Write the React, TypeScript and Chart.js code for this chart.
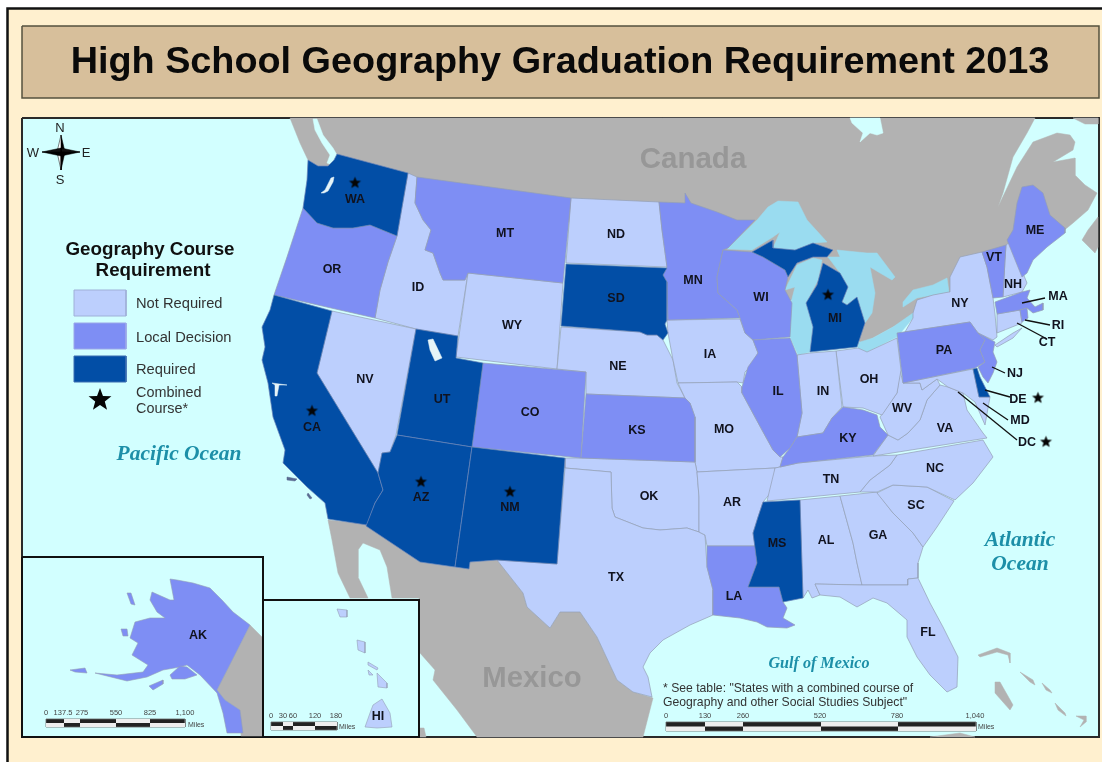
import React, { useEffect, useRef } from "react";
import { Chart, registerables } from "chart.js";

Chart.register(...registerables);

type P = number[];

const WA: P[] = [[308,160],[318,166],[328,166],[334,160],[337,154],[408,173],[397,236],[370,225],[353,228],[333,228],[317,223],[303,208],[307,180]];
const OR: P[] = [[303,208],[317,223],[333,228],[353,228],[370,225],[397,236],[388,262],[380,290],[375,318],[274,295],[287,257]];
const CA: P[] = [[274,295],[332,311],[317,373],[378,473],[383,490],[375,503],[367,525],[328,519],[325,503],[307,487],[283,463],[285,450],[273,417],[268,383],[262,360],[265,347],[262,327],[270,310]];
const NV: P[] = [[332,311],[416,329],[396,435],[390,452],[382,453],[378,473],[317,373]];
const ID: P[] = [[408,173],[417,177],[415,203],[423,220],[431,230],[425,250],[433,253],[440,273],[443,280],[465,280],[468,273],[458,336],[416,329],[375,318],[380,290],[388,262],[397,236]];
const MT: P[] = [[417,177],[571,198],[563,283],[468,273],[465,280],[443,280],[440,273],[433,253],[425,250],[431,230],[423,220],[415,203]];
const WY: P[] = [[468,273],[563,283],[557,369],[456,357]];
const UT: P[] = [[416,329],[458,336],[456,358],[483,363],[472,447],[397,435]];
const AZ: P[] = [[397,435],[472,447],[455,567],[420,562],[366,526],[375,503],[383,490],[378,473],[382,453],[390,452]];
const NM: P[] = [[472,447],[565,458],[557,564],[497,560],[470,562],[469,569],[455,567]];
const CO: P[] = [[483,363],[586,372],[581,458],[472,447]];
const ND: P[] = [[571,198],[659,202],[662,230],[667,267],[566,263]];
const SD: P[] = [[566,264],[667,268],[663,275],[667,282],[667,320],[665,324],[668,333],[663,340],[657,335],[647,335],[640,332],[561,326]];
const NE: P[] = [[561,327],[640,332],[647,335],[657,335],[663,340],[673,360],[677,383],[685,398],[586,394],[586,372],[557,369]];
const KS: P[] = [[586,394],[685,398],[690,403],[695,417],[695,462],[581,458]];
const OK: P[] = [[565,458],[565,468],[611,472],[612,508],[615,517],[643,528],[660,530],[687,528],[699,532],[699,497],[697,472],[695,462],[581,458]];
const TX: P[] = [[565,468],[611,472],[612,508],[615,517],[643,528],[660,530],[687,528],[699,532],[705,535],[707,567],[713,590],[713,615],[690,625],[663,640],[650,653],[643,667],[648,677],[652,697],[633,692],[617,680],[597,637],[580,612],[560,612],[550,628],[527,607],[523,593],[497,560],[557,564]];
const MN: P[] = [[659,202],[685,203],[685,193],[691,203],[717,212],[737,220],[755,220],[728,248],[723,250],[717,277],[718,293],[737,310],[740,318],[668,320],[667,282],[663,275],[667,267],[662,230]];
const IA: P[] = [[667,320],[740,319],[745,333],[753,340],[758,353],[750,367],[745,372],[743,383],[737,382],[678,383],[673,360],[668,333]];
const MO: P[] = [[678,383],[737,382],[742,387],[742,393],[762,430],[773,450],[780,457],[783,457],[780,467],[775,468],[697,472],[695,462],[695,417],[690,403],[685,398]];
const AR: P[] = [[697,472],[775,468],[773,490],[763,502],[758,517],[753,533],[755,546],[707,546],[705,535],[699,532],[699,497]];
const LA: P[] = [[707,546],[755,546],[757,563],[748,587],[779,587],[783,602],[787,608],[783,618],[795,625],[787,628],[767,627],[757,622],[740,618],[713,615],[713,590],[707,567]];
const WI: P[] = [[723,250],[752,252],[763,257],[785,270],[788,277],[785,290],[792,303],[790,337],[753,340],[745,333],[740,318],[737,310],[718,293],[717,277]];
const IL: P[] = [[753,340],[790,338],[797,355],[802,413],[797,437],[790,448],[780,457],[773,450],[762,430],[742,393],[742,387],[748,367],[758,353]];
const IN: P[] = [[797,355],[810,353],[836,351],[842,407],[832,418],[823,433],[810,435],[797,437],[802,413]];
const OH: P[] = [[836,351],[858,348],[867,352],[897,338],[901,370],[897,393],[882,415],[863,408],[843,407]];
const KY: P[] = [[797,437],[810,435],[823,433],[832,418],[843,407],[863,410],[877,415],[880,427],[888,435],[873,455],[798,463],[780,467],[783,457],[790,448]];
const TN: P[] = [[780,467],[798,463],[873,456],[897,455],[890,465],[870,480],[860,492],[767,501],[775,468]];
const MS: P[] = [[763,502],[800,500],[803,598],[783,602],[779,587],[748,587],[757,563],[753,533],[758,517]];
const AL: P[] = [[800,500],[840,496],[853,543],[857,563],[862,585],[815,584],[820,595],[812,598],[808,590],[803,598]];
const GA: P[] = [[840,496],[877,492],[893,513],[913,533],[923,547],[918,563],[918,578],[908,579],[908,585],[862,585],[857,563],[853,543]];
const SC: P[] = [[877,493],[893,485],[927,487],[954,501],[937,527],[923,547],[913,533],[893,513]];
const NC: P[] = [[897,455],[983,440],[993,457],[973,483],[955,500],[927,487],[893,485],[877,492],[860,492],[870,480],[890,465]];
const FL: P[] = [[815,584],[862,585],[908,585],[908,579],[918,578],[930,603],[943,627],[958,657],[957,687],[947,692],[930,675],[917,657],[907,637],[907,620],[887,603],[873,598],[857,607],[840,597],[820,595]];
const VA: P[] = [[940,385],[948,387],[963,393],[967,410],[983,433],[987,438],[873,456],[888,435],[898,440],[908,433],[920,420],[927,400]];
const WV: P[] = [[900,370],[903,383],[920,383],[922,390],[937,379],[940,385],[927,400],[920,420],[908,433],[898,440],[888,435],[880,417],[897,393]];
const MD: P[] = [[903,383],[973,369],[979,397],[990,397],[985,425],[975,402],[963,393],[948,387],[937,379],[922,390],[920,383]];
const DE: P[] = [[973,369],[977,368],[980,377],[990,397],[979,397]];
const PA: P[] = [[897,333],[970,322],[978,333],[985,340],[980,350],[985,362],[975,368],[903,383]];
const NJ: P[] = [[978,333],[995,342],[993,352],[997,362],[993,373],[988,383],[983,377],[978,367],[985,362],[980,350],[985,340]];
const NY: P[] = [[950,277],[960,257],[982,252],[987,267],[993,298],[995,314],[997,337],[993,340],[978,333],[970,322],[905,332],[913,318],[913,313],[917,300],[933,295],[949,292]];
const LONG_ISLAND: P[] = [[995,345],[1013,333],[1022,328],[1013,338],[997,347]];
const VT: P[] = [[982,252],[1006,245],[1005,260],[1003,297],[993,298],[987,267]];
const NH: P[] = [[1005,260],[1006,245],[1010,242],[1027,283],[1022,292],[1003,297]];
const ME: P[] = [[1022,187],[1033,185],[1043,193],[1050,215],[1065,228],[1065,233],[1047,247],[1033,260],[1027,273],[1022,277],[1007,240],[1013,230],[1017,203]];
const MA: P[] = [[995,302],[1022,292],[1030,290],[1027,298],[1035,307],[1043,303],[1043,310],[1033,313],[1027,308],[1020,310],[997,314]];
const CT: P[] = [[997,314],[1020,310],[1022,323],[997,333]];
const RI: P[] = [[1020,310],[1027,308],[1028,318],[1022,322]];
const MI_LOWER: P[] = [[810,352],[813,327],[806,303],[817,285],[823,263],[840,273],[848,287],[842,302],[847,305],[857,297],[865,323],[857,347]];
const MI_UPPER: P[] = [[752,252],[773,240],[773,248],[795,250],[813,243],[833,250],[827,257],[813,257],[797,263],[788,277],[785,270],[763,257]];
const AK: P[] = [[170,579],[177,580],[193,583],[210,588],[222,600],[233,612],[250,625],[217,690],[225,700],[240,710],[243,733],[227,733],[223,713],[217,693],[200,675],[187,665],[180,667],[163,670],[147,677],[127,681],[95,673],[117,675],[143,672],[148,665],[132,655],[138,643],[130,638],[135,622],[150,618],[165,618],[157,612],[150,600],[152,592],[170,600],[174,600]];
const AK_PENINSULA: P[] = [[170,675],[180,666],[187,667],[197,675],[185,679],[172,679]];
const AK_KODIAK: P[] = [[149,686],[163,680],[163,684],[153,690]];
const AK_ALEUT: P[] = [[70,670],[85,668],[87,673],[75,672]];
const AK_STLAWRENCE: P[] = [[121,629],[127,629],[128,636],[123,636]];
const AK_NUNIVAK: P[] = [[127,593],[131,593],[135,605],[131,604]];
const HI_BIG: P[] = [[382,699],[390,713],[392,727],[377,728],[365,727],[370,713],[373,705]];
const HI_MAUI: P[] = [[377,673],[387,683],[387,688],[378,687]];
const HI_OAHU: P[] = [[357,640],[365,642],[365,653],[358,650]];
const HI_KAUAI: P[] = [[337,609],[347,610],[347,617],[340,617]];
const HI_MOLOKAI: P[] = [[368,662],[378,668],[377,670],[368,665]];
const HI_LANAI: P[] = [[368,670],[373,675],[369,675]];

const CANADA: P[] = [[290,118],[1035,118],[1027,133],[1013,157],[1003,193],[998,207],[1017,167],[1033,142],[1057,133],[1070,135],[1075,142],[1073,150],[1053,162],[1075,158],[1075,175],[1085,185],[1097,193],[1088,210],[1073,223],[1062,232],[1020,265],[970,300],[913,316],[860,345],[857,320],[800,300],[720,300],[700,240],[330,190],[320,175],[308,160],[300,143]];
const CANADA_NE: P[] = [[1073,118],[1098,118],[1098,124],[1085,124]];
const NOVA_SCOTIA: P[] = [[1098,217],[1088,230],[1082,240],[1095,253],[1098,247]];
const MEXICO: P[] = [[328,520],[365,524],[420,562],[468,569],[470,562],[497,560],[523,593],[527,607],[550,628],[560,612],[580,612],[597,637],[617,680],[633,692],[653,698],[643,737],[477,737],[457,710],[433,680],[435,670],[420,653],[419,598],[392,598],[387,567],[380,550],[363,543],[358,550],[358,577],[368,598],[350,598],[338,573],[332,540]];
const BAJA_TIP: P[] = [[420,728],[424,728],[426,737],[420,737]];
const ANDROS: P[] = [[995,682],[1000,682],[1013,705],[1010,710],[995,693]];
const GRAND_BAHAMA: P[] = [[978,655],[997,648],[1010,653],[1010,663],[1008,655],[997,652],[980,657]];
const ABACO: P[] = [[1020,672],[1033,680],[1035,685],[1030,682]];
const EXUMA: P[] = [[1042,683],[1050,690],[1052,693],[1046,690]];
const CAT: P[] = [[1055,703],[1065,713],[1066,716],[1058,710]];
const INAGUA: P[] = [[1076,716],[1086,716],[1086,722],[1080,727],[1084,720]];
const CUBA_EDGE: P[] = [[930,737],[960,733],[975,737]];

const SUPERIOR: P[] = [[727,249],[757,220],[768,207],[778,201],[798,202],[807,220],[827,242],[813,243],[795,250],[773,248],[780,232],[773,237],[752,250]];
const MICHIGAN_LAKE: P[] = [[813,258],[822,260],[818,280],[806,303],[813,327],[810,352],[798,355],[790,337],[789,310],[795,287],[785,290],[797,265]];
const HURON: P[] = [[828,257],[840,257],[837,250],[867,253],[877,253],[895,277],[892,280],[880,273],[870,267],[875,293],[872,313],[865,323],[857,297],[847,305],[842,302],[848,287],[840,273]];
const ERIE: P[] = [[857,343],[873,338],[893,327],[913,313],[913,318],[897,337],[867,352],[858,348]];
const ONTARIO: P[] = [[903,302],[913,290],[933,285],[947,278],[949,292],[933,295],[917,298],[903,307]];
const HUDSON: P[] = [[850,118],[880,118],[883,133],[877,135],[870,133],[860,142],[863,133],[852,123]];
const ST_STRAIT: P[] = [[313,119],[317,119],[323,135],[333,148],[337,155],[332,165],[327,163],[330,155],[322,143],[315,130]];

const SALT_LAKE: P[] = [[428,340],[433,339],[442,358],[435,361],[430,350]];
const SF_BAY: P[] = [[272,383],[287,385],[279,385],[277,396],[275,396],[275,385]];
const PUGET: P[] = [[321,193],[325,190],[331,178],[334,177],[333,182],[328,191],[324,193]];
const PONTCHARTRAIN: P[] = [[770,603],[778,602],[777,607],[771,607]];
const CHESAPEAKE: P[] = [[966,380],[969,380],[973,400],[979,420],[975,424],[968,405]];
const CHANNEL_A: P[] = [[287,477],[297,479],[295,481],[287,480]];
const CHANNEL_B: P[] = [[308,493],[312,498],[310,499],[307,495]];

const notRequired = [ID, NV, WY, ND, NE, IA, MO, OK, TX, AR, AL, GA, FL, SC, NC, TN, VA, WV, OH, IN, NY, LONG_ISLAND, NH, CT, MD];
const localDecision = [OR, MT, CO, KS, MN, WI, IL, KY, LA, PA, NJ, VT, ME, MA, RI];
const required = [WA, CA, UT, AZ, NM, SD, MS, MI_LOWER, MI_UPPER, DE];
const alaskaShapes = [AK, AK_PENINSULA, AK_KODIAK, AK_ALEUT, AK_STLAWRENCE, AK_NUNIVAK];
const hawaiiShapes = [HI_BIG, HI_MAUI, HI_OAHU, HI_KAUAI, HI_MOLOKAI, HI_LANAI];
const greyLand = [CANADA, CANADA_NE, NOVA_SCOTIA, MEXICO, BAJA_TIP, ANDROS, GRAND_BAHAMA, ABACO, EXUMA, CAT, INAGUA, CUBA_EDGE];
const lakes = [SUPERIOR, MICHIGAN_LAKE, HURON, ERIE, ONTARIO];
const waterOver = [HUDSON, ST_STRAIT, PONTCHARTRAIN, CHESAPEAKE];
const paleOver = [SALT_LAKE, SF_BAY, PUGET];
const channelIslands = [CHANNEL_A, CHANNEL_B];

const stateLabels: [string, number, number][] = [
  ["WA",355,199],["OR",332,269],["CA",312,427],["NV",365,379],["ID",418,287],["MT",505,233],["WY",512,325],["UT",442,399],
  ["AZ",421,497],["NM",510,507],["CO",530,412],["ND",616,234],["SD",616,298],["NE",618,366],["KS",637,430],["OK",649,496],
  ["TX",616,577],["MN",693,280],["IA",710,354],["MO",724,429],["AR",732,502],["LA",734,596],["MS",777,543],["AL",826,540],
  ["GA",878,535],["FL",928,632],["SC",916,505],["NC",935,468],["TN",831,479],["KY",848,438],["IL",778,391],["IN",823,391],
  ["OH",869,379],["WI",761,297],["MI",835,318],["PA",944,350],["NY",960,303],["VT",994,257],["NH",1013,284],["ME",1035,230],
  ["WV",902,408],["VA",945,428],["MA",1058,296],["RI",1058,325],["CT",1047,342],["NJ",1015,373],["DE",1018,399],["MD",1020,420],
  ["DC",1027,442],["AK",198,635],["HI",378,716],
];
const mapStars: P[] = [[355,183],[312,411],[421,482],[510,492],[828,295],[1038,398],[1046,442]];
const legendStars: P[] = [[100,400]];
const leaders: P[][] = [
  [[1022,303],[1045,298]],[[1025,320],[1050,325]],[[1017,323],[1047,339]],[[992,367],[1005,373]],
  [[985,390],[1010,397]],[[983,403],[1008,420]],[[958,392],[1017,440]],
];
const legendItems: [string, number][] = [["Not Required",303],["Local Decision",337],["Required",369]];
const akStops = [46,64,80,116,150,185];
const hiStops = [271,283,293,315,337];
const gulfStops = [666,705,743,821,898,976];
const akTicks: [string, number][] = [["0",46],["137.5",63],["275",82],["550",116],["825",150],["1,100",185]];
const hiTicks: [string, number][] = [["0",271],["30",283],["60",293],["120",315],["180",336]];
const gulfTicks: [string, number][] = [["0",666],["130",705],["260",743],["520",820],["780",897],["1,040",975]];

const C_NOT = "#bccffd", C_LOCAL = "#7e8ef4", C_REQ = "#024ea6", C_OCEAN = "#d2ffff", C_GREY = "#b2b2b2",
  C_LAKE = "#9adcf0", C_CREAM = "#fff0cf", C_TAN = "#d7bf9b", C_EDGE = "#949fb5", C_TEAL = "#1c8fa8";

const rect = (a: number, b: number, c: number, d: number): P[] => [[a,b],[c,b],[c,d],[a,d]];

function poly(p: P[], fill: string, stroke = fill, w = 0.7) {
  const pts = [...p, p[0]].map(([x, y]) => ({ x, y }));
  return { data: pts, showLine: true, fill: "shape", backgroundColor: fill, borderColor: stroke, borderWidth: w, pointRadius: 0, tension: 0, clip: false };
}
function seg(p: P[], color: string, w: number) {
  return { data: p.map(([x, y]) => ({ x, y })), showLine: true, fill: false, borderColor: color, borderWidth: w, pointRadius: 0, tension: 0, clip: false };
}
function starImage(r: number) {
  const c = document.createElement("canvas");
  c.width = c.height = Math.ceil(r * 2 + 2);
  const g = c.getContext("2d")!;
  g.fillStyle = "#050505";
  g.beginPath();
  for (let i = 0; i < 10; i++) {
    const rr = i % 2 ? r * 0.42 : r;
    const a = -Math.PI / 2 + (i * Math.PI) / 5;
    const x = c.width / 2 + rr * Math.cos(a), y = c.height / 2 + rr * Math.sin(a);
    i ? g.lineTo(x, y) : g.moveTo(x, y);
  }
  g.closePath();
  g.fill();
  return c;
}
function stars(p: P[], r: number) {
  return { data: p.map(([x, y]) => ({ x, y })), showLine: false, pointStyle: starImage(r), pointRadius: r, clip: false };
}
function bar(stops: number[], top: number, bot: number) {
  const out: any[] = [];
  const mid = (top + bot) / 2;
  out.push(poly(rect(stops[0], top, stops[stops.length - 1], bot), "#222", "#666", 0.8));
  stops.slice(0, -1).forEach((s, i) => {
    const e = stops[i + 1];
    out.push(poly(rect(s, i % 2 ? top : mid, e, i % 2 ? mid : bot), "#eee", "#eee", 0));
  });
  return out;
}
function compass() {
  const cx = 61, cy = 152, o: any[] = [];
  const arms: [number, number][] = [[0,-17],[19,0],[0,18],[-19,0]];
  arms.forEach(([dx, dy]) => {
    const nx = dy !== 0 ? 4 : 0, ny = dx !== 0 ? 4 : 0;
    o.push(poly([[cx, cy],[cx + dx, cy + dy],[cx + nx, cy + ny]], "#000", "#000", 0.5));
    o.push(poly([[cx, cy],[cx + dx, cy + dy],[cx - nx, cy - ny]], dx !== 0 ? "#111" : "#fff", "#000", 0.5));
  });
  return o;
}

function layers() {
  const ds: any[] = [];
  ds.push(poly(rect(0,0,1102,762), "#ffffff", "#ffffff", 0));
  ds.push(poly(rect(7,8,1102,762), C_CREAM, C_CREAM, 0));
  ds.push(seg([[7.5,762],[7.5,8.5],[1102,8.5]], "#111", 2.5));
  ds.push(poly(rect(22,26,1099,98), C_TAN, "#55523f", 1.5));
  ds.push(poly(rect(22,118,1099,737), C_OCEAN, "#2a2a2a", 2));
  greyLand.forEach((p) => ds.push(poly(p, C_GREY, C_GREY, 0.5)));
  lakes.forEach((p) => ds.push(poly(p, C_LAKE, C_LAKE, 0.5)));
  waterOver.forEach((p) => ds.push(poly(p, C_OCEAN, C_OCEAN, 0.5)));
  notRequired.forEach((p) => ds.push(poly(p, C_NOT, C_EDGE)));
  localDecision.forEach((p) => ds.push(poly(p, C_LOCAL, C_EDGE)));
  required.forEach((p) => ds.push(poly(p, C_REQ, "#6a84b8")));
  paleOver.forEach((p) => ds.push(poly(p, "#e6f4f8", "#e6f4f8", 0.5)));
  channelIslands.forEach((p) => ds.push(poly(p, "#5a6a90", "#5a6a90", 0.5)));
  ds.push(poly(rect(22,557,263,737), C_OCEAN, "#111", 2));
  ds.push(poly([[250,625],[262,637],[262,736],[241,736],[240,710],[225,700],[217,690]], C_GREY, C_GREY, 0.5));
  alaskaShapes.forEach((p) => ds.push(poly(p, C_LOCAL, C_EDGE, 0.6)));
  ds.push(poly(rect(263,600,419,737), C_OCEAN, "#111", 2));
  hawaiiShapes.forEach((p) => ds.push(poly(p, C_NOT, C_EDGE, 0.6)));
  ds.push(poly(rect(74,290,126,316), C_NOT, "#9fb0d8", 1));
  ds.push(poly(rect(74,323,126,349), C_LOCAL, "#9aa6e8", 1));
  ds.push(poly(rect(74,356,126,382), C_REQ, "#3a6cb0", 1));
  ds.push(...bar(akStops, 719, 727), ...bar(hiStops, 722, 730), ...bar(gulfStops, 722, 731));
  ds.push(...compass());
  leaders.forEach((l) => ds.push(seg(l, "#111", 1.3)));
  ds.push(stars(mapStars, 6.3), stars(legendStars, 12));
  return ds.reverse();
}

const textPlugin = {
  id: "mapText",
  afterDatasetsDraw(chart: any) {
    const { ctx, scales } = chart;
    const put = (s: string, x: number, y: number, font: string, color: string, align: CanvasTextAlign = "center") => {
      ctx.font = font;
      ctx.fillStyle = color;
      ctx.textAlign = align;
      ctx.textBaseline = "middle";
      ctx.fillText(s, scales.x.getPixelForValue(x), scales.y.getPixelForValue(y) + 1);
    };
    const sans = '"Liberation Sans"';
    const serif = '"Liberation Serif"';
    ctx.save();
    put("High School Geography Graduation Requirement 2013", 560, 62, `bold 37.8px ${sans}`, "#0a0a0a");
    put("Canada", 693, 159, `bold 29.5px ${sans}`, "#979797");
    put("Mexico", 532, 678, `bold 29.3px ${sans}`, "#979797");
    stateLabels.forEach(([s, x, y]) => put(s, x, y, `bold 12.5px ${sans}`, "#10121e"));
    put("N", 60, 127, `13px ${sans}`, "#222");
    put("S", 60, 179, `13px ${sans}`, "#222");
    put("W", 33, 152, `13px ${sans}`, "#222");
    put("E", 86, 152, `13px ${sans}`, "#222");
    put("Geography Course", 150, 249, `bold 18.8px ${sans}`, "#101010");
    put("Requirement", 153, 270, `bold 18.8px ${sans}`, "#101010");
    legendItems.forEach(([s, y]) => put(s, 136, y, `14.7px ${sans}`, "#333", "left"));
    put("Combined", 136, 392, `14.4px ${sans}`, "#333", "left");
    put("Course*", 136, 408, `14.4px ${sans}`, "#333", "left");
    put("Pacific Ocean", 179, 453, `italic bold 21.5px ${serif}`, C_TEAL);
    put("Atlantic", 1020, 539, `italic bold 21.5px ${serif}`, C_TEAL);
    put("Ocean", 1020, 563, `italic bold 21.5px ${serif}`, C_TEAL);
    put("Gulf of Mexico", 819, 663, `italic bold 16.1px ${serif}`, C_TEAL);
    put('* See table: "States with a combined course of', 663, 688, `12.2px ${sans}`, "#333", "left");
    put('Geography and other Social Studies Subject"', 663, 702, `12.2px ${sans}`, "#333", "left");
    akTicks.forEach(([s, x]) => put(s, x, 712, `7.5px ${sans}`, "#444"));
    hiTicks.forEach(([s, x]) => put(s, x, 715, `7.5px ${sans}`, "#444"));
    gulfTicks.forEach(([s, x]) => put(s, x, 715, `7.5px ${sans}`, "#444"));
    put("Miles", 188, 724, `7px ${sans}`, "#444", "left");
    put("Miles", 339, 726, `7px ${sans}`, "#444", "left");
    put("Miles", 978, 726, `7px ${sans}`, "#444", "left");
    ctx.restore();
  },
};

export default function App() {
  const ref = useRef<HTMLCanvasElement | null>(null);
  useEffect(() => {
    const chart = new Chart(ref.current!, {
      type: "scatter",
      data: { datasets: layers() },
      options: {
        animation: false,
        responsive: false,
        events: [],
        layout: { padding: 0, autoPadding: false },
        plugins: { legend: { display: false }, tooltip: { enabled: false }, title: { display: false } },
        scales: {
          x: { type: "linear", min: 0, max: 1102, display: false },
          y: { type: "linear", min: 0, max: 762, reverse: true, display: false },
        },
      },
      plugins: [textPlugin],
    } as any);
    return () => chart.destroy();
  }, []);
  return (
    <div style={{ position: "absolute", left: 0, top: 0, width: 1102, height: 762 }}>
      <canvas ref={ref} width={1102} height={762} style={{ display: "block", width: 1102, height: 762, filter: "blur(0.4px)" }} />
    </div>
  );
}
